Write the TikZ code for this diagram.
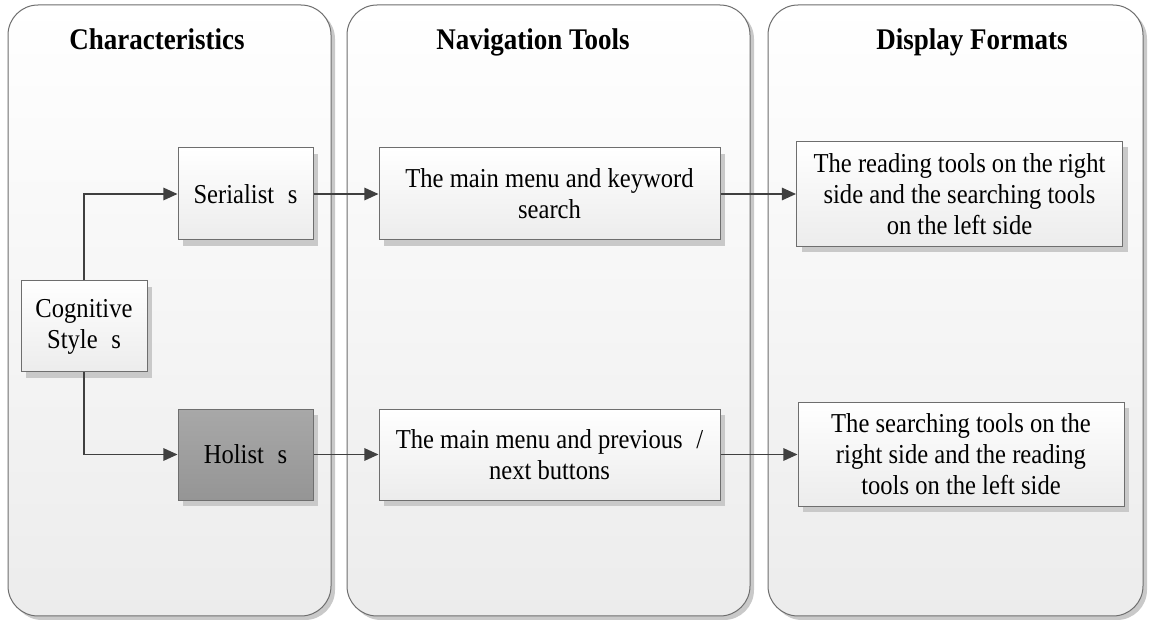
\documentclass[tikz,border=0pt]{standalone}
\usepackage{fontspec}
\setmainfont{Liberation Serif}[FakeStretch=0.9]
\usepackage{tikz}
\usetikzlibrary{positioning,arrows.meta,shadows}
\definecolor{edgegray}{HTML}{6E6E6E}
\definecolor{shadowgray}{HTML}{C9C9C9}
\definecolor{arrowgray}{HTML}{404040}
\definecolor{lowgray}{HTML}{ECECEC}
\definecolor{holtop}{HTML}{A8A8A8}
\definecolor{holbot}{HTML}{959595}

\begin{document}
\begin{tikzpicture}[x=0.6pt,y=-0.6pt,
  panel/.style={draw=edgegray, line width=0.6pt, rounded corners=18pt, top color=white, bottom color=lowgray,
    drop shadow={shadow xshift=2.4pt, shadow yshift=-2.4pt, fill=shadowgray, opacity=1}, inner sep=0pt},
  boxy/.style={draw=edgegray, line width=0.6pt, top color=white, bottom color=lowgray, inner sep=0pt, align=center,
    font=\fontsize{16.4}{18.6}\selectfont,
    drop shadow={shadow xshift=3pt, shadow yshift=-3.5pt, fill=shadowgray, opacity=1}},
  darkbox/.style={boxy, top color=holtop, bottom color=holbot},
  heading/.style={font=\fontsize{18}{20}\selectfont\bfseries, anchor=base},
  link/.style={draw=arrowgray, line width=1pt, -{Triangle[length=8.5pt,width=7.5pt]}}]

\useasboundingbox[fill=white] (0,0) rectangle (1151,621);

\node[panel, minimum width=193.8pt, minimum height=366.6pt] (pchar) at (169.5,310.5) {};
\node[panel, minimum width=241.8pt, minimum height=366.6pt] (pnav) at (548.5,310.5) {};
\node[panel, minimum width=225pt, minimum height=366.6pt] (pdisp) at (955.5,310.5) {};

\node[heading] (tchar) at (157,50) {Characteristics};
\node[heading] (tnav) at (533,50) {Navigation Tools};
\node[heading] (tdisp) at (972,50) {Display Formats};

\node[boxy, minimum width=75.6pt, minimum height=54.6pt] (cog) at (84,326.5) {Cognitive\\Style\enspace s};
\node[boxy, minimum width=81pt, minimum height=55.2pt] (ser) at (245.5,194) {Serialist\enspace s};
\node[darkbox, minimum width=81pt, minimum height=54.6pt] (hol) at (245.5,454.5) {Holist\enspace s};
\node[boxy, minimum width=204.6pt, minimum height=55.2pt] (navone) at (549.5,194) {The main menu and keyword\\search};
\node[boxy, minimum width=204.6pt, minimum height=54.6pt] (navtwo) at (549.5,454.5) {The main menu and previous\enspace/\\next buttons};
\node[boxy, minimum width=195.6pt, minimum height=63pt] (dispone) at (959.5,194) {The reading tools on the right\\side and the searching tools\\on the left side};
\node[boxy, minimum width=195.6pt, minimum height=62.4pt] (disptwo) at (961,454.5) {The searching tools on the\\right side and the reading\\tools on the left side};

\draw[link] (cog.north) |- (ser.west);
\draw[link] (cog.south) |- (hol.west);
\draw[link] (ser.east) -- (navone.west);
\draw[link] (hol.east) -- (navtwo.west);
\draw[link] (navone.east) -- (dispone.west);
\draw[link] (navtwo.east) -- (disptwo.west);

\end{tikzpicture}
\end{document}
